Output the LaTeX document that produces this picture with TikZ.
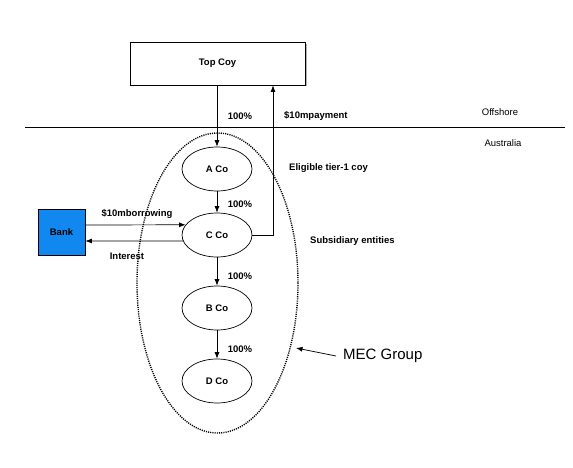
\documentclass[tikz,border=0pt]{standalone}
\usepackage{fontspec}
\setmainfont{Liberation Sans}
\usetikzlibrary{arrows.meta,shapes.geometric}
\definecolor{bankblue}{RGB}{16,136,240}
\tikzset{
  lbl/.style={font=\bfseries\fontsize{9.5}{11}\selectfont, inner sep=0pt},
  plain/.style={font=\fontsize{9.5}{11}\selectfont, inner sep=0pt},
  coy/.style={ellipse, draw, line width=0.7pt, minimum width=70pt, minimum height=44pt, inner sep=0pt, font=\bfseries\fontsize{9.5}{11}\selectfont},
  arr/.style={line width=0.7pt, -{Latex[length=6.5pt,width=5pt]}},
  ln/.style={line width=0.7pt}
}
\begin{document}
\begin{tikzpicture}[x=1pt,y=-1pt]
\useasboundingbox (0,0) rectangle (573,468);
% Top Coy box with slight shadow
\fill[gray!60] (131.5,44) rectangle (306.5,86.5);
\node[draw, line width=0.8pt, fill=white, minimum width=175pt, minimum height=43pt, inner sep=0pt, font=\bfseries\fontsize{9.5}{11}\selectfont] (top) at (217.5,63.5) {\raisebox{3pt}{Top Coy}};
% border line
\coordinate (hl) at (25,127);
\coordinate (hr) at (565,127);
\draw[ln] (hl) -- (hr);
\node[plain] (off) at (500,112) {Offshore};
\node[plain] (aus) at (503,143) {Australia};
% MEC group ellipse
\draw[line width=1.4pt, dash pattern=on 1.1pt off 1.1pt] (217.5,283) ellipse [x radius=80.5, y radius=150];
% companies
\node[coy] (aco) at (217,169) {A Co};
\node[coy] (cco) at (217,235) {C Co};
\node[coy] (bco) at (217,308) {B Co};
\node[coy] (dco) at (217,381) {D Co};
\draw[arr] (top.south -| aco.north) -- (aco.north);
\draw[arr] (aco) -- (cco);
\draw[arr] (cco) -- (bco);
\draw[arr] (bco) -- (dco);
\node[lbl] (p1) at (240,116) {100\%};
\node[lbl] (p2) at (240,204) {100\%};
\node[lbl] (p3) at (240,276) {100\%};
\node[lbl] (p4) at (240,349) {100\%};
% payment
\coordinate (px) at (273,0);
\draw[arr] (cco.east) -| (top.south -| px);
\node[lbl, anchor=west] (pay) at (284,116) {\$10mpayment};
\node[lbl, anchor=west] (elig) at (289,168) {Eligible tier-1 coy};
\node[lbl, anchor=west] (subs) at (310,241) {Subsidiary entities};
% bank
\node[draw, line width=0.8pt, fill=bankblue, minimum width=47pt, minimum height=46pt, inner sep=0pt, font=\bfseries\fontsize{9.5}{11}\selectfont] (bank) at (61.5,232) {Bank};
\draw[arr] ([yshift=7pt]bank.east) -- (cco.162);
\draw[arr] (cco.190) -- ([yshift=-9pt]bank.east);
\node[lbl] (borrow) at (137,214) {\$10mborrowing};
\node[lbl] (int) at (127,256) {Interest};
% MEC label
\node[font=\fontsize{15}{17}\selectfont, inner sep=0pt, anchor=west] (mec) at (343,356) {MEC Group};
\coordinate (mectip) at (296,348);
\draw[arr] ([xshift=-7pt]mec.west) -- (mectip);
\end{tikzpicture}
\end{document}
